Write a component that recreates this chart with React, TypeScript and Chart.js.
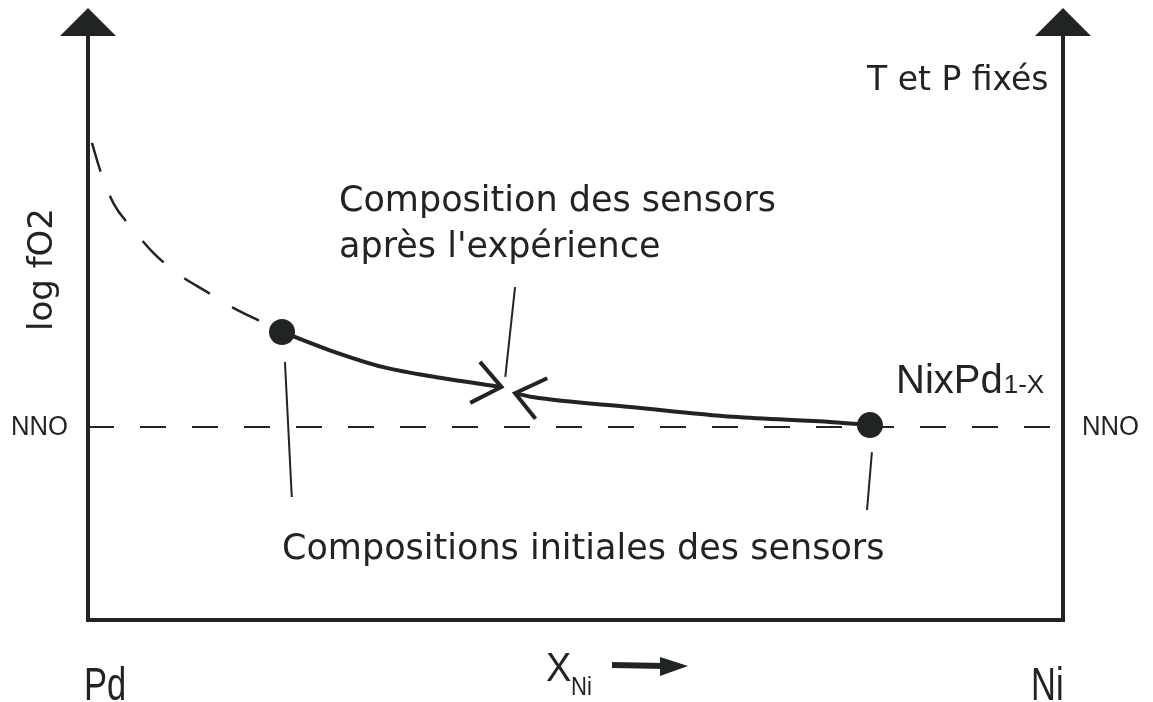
import React, { useEffect, useRef } from "react";
import { Chart, registerables } from "chart.js";

Chart.register(...registerables);

// Data (x: mole fraction X_Ni, y: log fO2 relative to NNO, schematic units)
const nnoX = [0, 1];
const nnoY = [0, 0];

const equilibriumDashedX = [0.004, 0.013, 0.026, 0.047, 0.067, 0.094, 0.122, 0.149, 0.180, 0.199];
const equilibriumDashedY = [5.89, 5.29, 4.64, 4.08, 3.61, 3.15, 2.80, 2.47, 2.16, 1.97];

const pdRichPathX = [0.199, 0.248, 0.303, 0.361, 0.424];
const pdRichPathY = [1.97, 1.59, 1.24, 1.02, 0.83];

const niRichPathX = [0.802, 0.764, 0.662, 0.559, 0.456, 0.438];
const niRichPathY = [0.04, 0.10, 0.21, 0.41, 0.62, 0.70];

const sensorX = [0.199, 0.802];
const sensorY = [1.97, 0.04];

const arrowLeftX = [0.402, 0.424, 0.392];
const arrowLeftY = [1.35, 0.83, 0.50];
const arrowRightX = [0.471, 0.438, 0.459];
const arrowRightY = [1.01, 0.70, 0.17];

const leaderFinalX = [0.438, 0.428];
const leaderFinalY = [2.9, 1.04];
const leaderInitLeftX = [0.202, 0.209];
const leaderInitLeftY = [1.35, -1.45];
const leaderInitRightX = [0.804, 0.799];
const leaderInitRightY = [-0.52, -1.72];

const yMin = -4;
const yMax = 8;

const labelFinal = ["Composition des sensors", "après l'expérience"];
const labelInitial = "Compositions initiales des sensors";
const labelAlloy = "NixPd";
const labelAlloySub = "1-X";
const labelFixed = "T et P fixés";
const labelNNO = "NNO";
const labelYAxis = "log fO2";
const labelPd = "Pd";
const labelNi = "Ni";
const labelX = "X";
const labelXSub = "Ni";

const INK = "#202523";

function pts(xs: number[], ys: number[]) {
  return xs.map((x, i) => ({ x, y: ys[i] }));
}

const HAND = "'DejaVu Sans', 'Noto Sans', sans-serif";
const PLAIN = "'Liberation Sans', Arial, sans-serif";

const decorPlugin = {
  id: "decor",
  afterDatasetsDraw(chart: any) {
    const ctx: CanvasRenderingContext2D = chart.ctx;
    const a = chart.chartArea;
    ctx.save();
    ctx.strokeStyle = INK;
    ctx.fillStyle = INK;
    ctx.lineCap = "butt";
    // axes
    ctx.lineWidth = 4;
    ctx.beginPath();
    ctx.moveTo(a.left, a.top - 8);
    ctx.lineTo(a.left, a.bottom);
    ctx.lineTo(a.right, a.bottom);
    ctx.lineTo(a.right, a.top - 8);
    ctx.stroke();
    const head = (x: number) => {
      ctx.beginPath();
      ctx.moveTo(x, a.top - 33);
      ctx.lineTo(x + 28, a.top - 5);
      ctx.lineTo(x - 28, a.top - 5);
      ctx.closePath();
      ctx.fill();
    };
    head(a.left);
    head(a.right);

    const narrow = (t: string, x: number, y: number, size: number, sx: number) => {
      ctx.save();
      ctx.translate(x, y);
      ctx.scale(sx, 1);
      ctx.font = `${size}px ${PLAIN}`;
      ctx.fillText(t, 0, 0);
      ctx.restore();
    };

    ctx.textBaseline = "alphabetic";
    ctx.textAlign = "left";
    ctx.font = `35px ${HAND}`;
    ctx.fillText(labelFinal[0], 339, 211);
    ctx.fillText(labelFinal[1], 339, 257);
    ctx.fillText(labelInitial, 282, 559);
    ctx.font = `33px ${HAND}`;
    ctx.fillText(labelFixed, 867, 90);

    ctx.font = `40px ${PLAIN}`;
    ctx.fillText(labelAlloy, 896, 393);
    const w = ctx.measureText(labelAlloy).width;
    ctx.font = `26px ${PLAIN}`;
    ctx.fillText(labelAlloySub, 896 + w + 1, 393);

    narrow(labelNNO, 11, 435, 27, 0.95);
    narrow(labelNNO, 1082, 435, 27, 0.95);

    narrow(labelPd, 84, 700, 46, 0.75);
    narrow(labelNi, 1031, 700, 46, 0.75);
    narrow(labelX, 546, 681, 40, 0.95);
    narrow(labelXSub, 571, 695, 26, 0.85);

    // X_Ni direction arrow
    ctx.lineWidth = 6;
    ctx.beginPath();
    ctx.moveTo(612, 665);
    ctx.lineTo(665, 666);
    ctx.stroke();
    ctx.beginPath();
    ctx.moveTo(660, 657);
    ctx.lineTo(688, 666);
    ctx.lineTo(660, 676);
    ctx.closePath();
    ctx.fill();

    // rotated y label
    ctx.save();
    ctx.translate(52, 331);
    ctx.rotate(-Math.PI / 2);
    ctx.font = `34px ${HAND}`;
    ctx.fillText(labelYAxis, 0, 0);
    ctx.restore();

    ctx.restore();
  },
};

export default function App() {
  const ref = useRef<HTMLCanvasElement>(null);
  useEffect(() => {
    document.body.style.margin = "0";
    const line = (xs: number[], ys: number[], width: number, extra: any = {}) => ({
      data: pts(xs, ys),
      showLine: true,
      borderColor: INK,
      backgroundColor: INK,
      borderWidth: width,
      pointRadius: 0,
      fill: false,
      ...extra,
    });
    const chart = new Chart(ref.current as HTMLCanvasElement, {
      type: "scatter",
      data: {
        datasets: [
          line(nnoX, nnoY, 2, { borderDash: [26, 26] }),
          line(equilibriumDashedX, equilibriumDashedY, 2.5, {
            borderDash: [30, 26],
            cubicInterpolationMode: "monotone",
          }),
          line(pdRichPathX, pdRichPathY, 4, { cubicInterpolationMode: "monotone" }),
          line(niRichPathX, niRichPathY, 4, { cubicInterpolationMode: "monotone" }),
          line(arrowLeftX, arrowLeftY, 4, { borderJoinStyle: "miter" }),
          line(arrowRightX, arrowRightY, 4, { borderJoinStyle: "miter" }),
          line(leaderFinalX, leaderFinalY, 2),
          line(leaderInitLeftX, leaderInitLeftY, 2),
          line(leaderInitRightX, leaderInitRightY, 2),
          {
            data: pts(sensorX, sensorY),
            showLine: false,
            pointRadius: 13,
            pointBackgroundColor: INK,
            pointBorderColor: INK,
            pointBorderWidth: 0,
          },
        ],
      },
      options: {
        animation: false,
        responsive: false,
        devicePixelRatio: 1,
        layout: { padding: { left: 88, right: 90, top: 41, bottom: 82 } },
        plugins: { legend: { display: false }, tooltip: { enabled: false }, title: { display: false } },
        elements: { line: { tension: 0 } },
        scales: {
          x: { type: "linear", min: 0, max: 1, display: false },
          y: { type: "linear", min: yMin, max: yMax, display: false },
        },
        events: [],
      } as any,
      plugins: [decorPlugin],
    });
    return () => chart.destroy();
  }, []);
  return (
    <div style={{ width: 1153, height: 702, background: "#fff" }}>
      <canvas ref={ref} width={1153} height={702} style={{ display: "block" }} />
    </div>
  );
}
